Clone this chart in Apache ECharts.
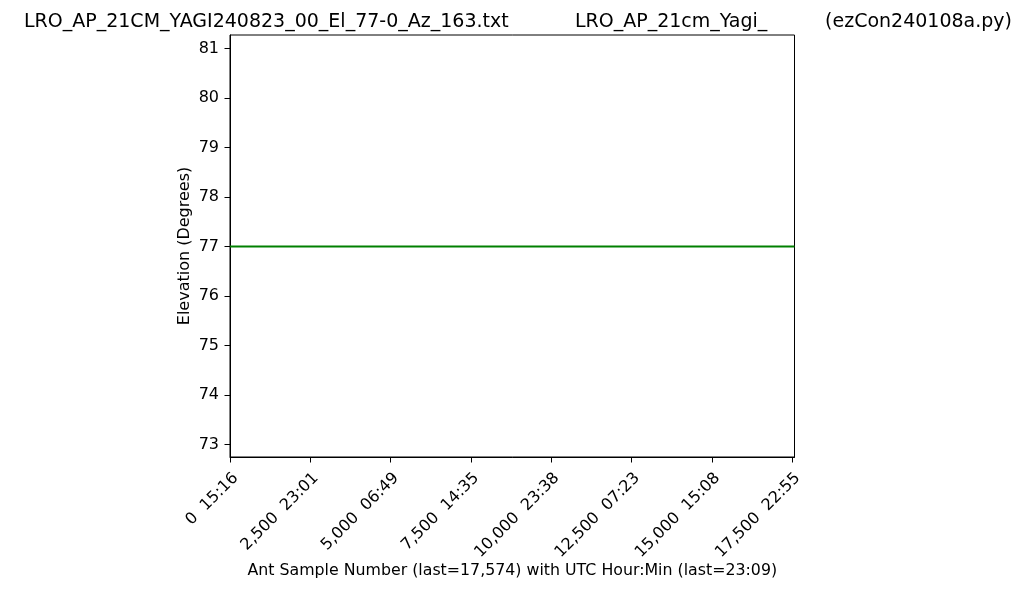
<!DOCTYPE html>
<html>
<head>
<meta charset="utf-8">
<script src="https://cdn.jsdelivr.net/npm/echarts@6/dist/echarts.min.js"></script>
<style>
html,body{margin:0;padding:0;background:#fff;}
#chart{width:1024px;height:591px;}
</style>
</head>
<body>
<div id="chart"></div>
<script>
// ---- data ----
const sampleNumbers = [0, 17574];
const elevations = [77, 77];
const xTickValues = [0, 2500, 5000, 7500, 10000, 12500, 15000, 17500];
const xTickLabels = ["0  15:16", "2,500  23:01", "5,000  06:49", "7,500  14:35", "10,000  23:38", "12,500  07:23", "15,000  15:08", "17,500  22:55"];
const titleLeft = "LRO_AP_21CM_YAGI240823_00_El_77-0_Az_163.txt";
const titleMid = "LRO_AP_21cm_Yagi_";
const titleRight = "(ezCon240108a.py)";
const xName = "Ant Sample Number (last=17,574) with UTC Hour:Min (last=23:09)";
const yName = "Elevation (Degrees)";
const yMin = 72.75, yMax = 81.27;
const xMin = 0, xMax = 17574;

const FONT = "DejaVu Sans";
const chart = echarts.init(document.getElementById('chart'), null, {renderer: 'canvas'});
const labelMap = {};
xTickValues.forEach((v, i) => labelMap[v] = xTickLabels[i]);
const tStyle = {fontFamily: FONT, fontSize: 19, fontWeight: 'normal', color: '#000'};

chart.setOption({
  animation: false,
  backgroundColor: '#fff',
  textStyle: {fontFamily: FONT},
  title: [
    {text: titleLeft, left: 19, top: 8, textStyle: tStyle},
    {text: titleMid, left: 570, top: 8, textStyle: tStyle},
    {text: titleRight, right: 7, top: 8, textStyle: tStyle}
  ],
  grid: {left: 230, top: 35, right: 229.5, bottom: 134, show: true, borderColor: '#000', borderWidth: 1, backgroundColor: 'transparent'},
  xAxis: {
    type: 'value', min: xMin, max: xMax, interval: 2500,
    name: xName, nameLocation: 'middle', nameGap: 106, nameMoveOverlap: false,
    nameTextStyle: {fontFamily: FONT, fontSize: 15.8, color: '#000'},
    axisLine: {show: true, lineStyle: {color: '#000', width: 1}},
    axisTick: {show: true, length: 5.5, lineStyle: {color: '#000'}},
    splitLine: {show: false},
    axisLabel: {
      rotate: 45, margin: 13, verticalAlign: 'top', fontFamily: FONT, fontSize: 16, color: '#000',
      showMaxLabel: false,
      formatter: v => labelMap[v] !== undefined ? labelMap[v] : ''
    }
  },
  yAxis: {
    type: 'value', min: yMin, max: yMax, splitNumber: 8,
    name: yName, nameLocation: 'middle', nameGap: 37, nameMoveOverlap: false,
    nameTextStyle: {fontFamily: FONT, fontSize: 16, color: '#000'},
    axisLine: {show: true, lineStyle: {color: '#000', width: 1}},
    axisTick: {show: true, length: 5.5, lineStyle: {color: '#000'}},
    splitLine: {show: false},
    axisLabel: {
      margin: 11, fontFamily: FONT, fontSize: 16, color: '#000',
      showMinLabel: false, showMaxLabel: false,
      formatter: v => Number.isInteger(v) ? String(v) : ''
    }
  },
  series: [{
    type: 'line',
    data: sampleNumbers.map((x, i) => [x, elevations[i]]),
    showSymbol: false,
    lineStyle: {color: '#008000', width: 2},
    itemStyle: {color: '#008000'}
  }]
});
</script>
</body>
</html>
